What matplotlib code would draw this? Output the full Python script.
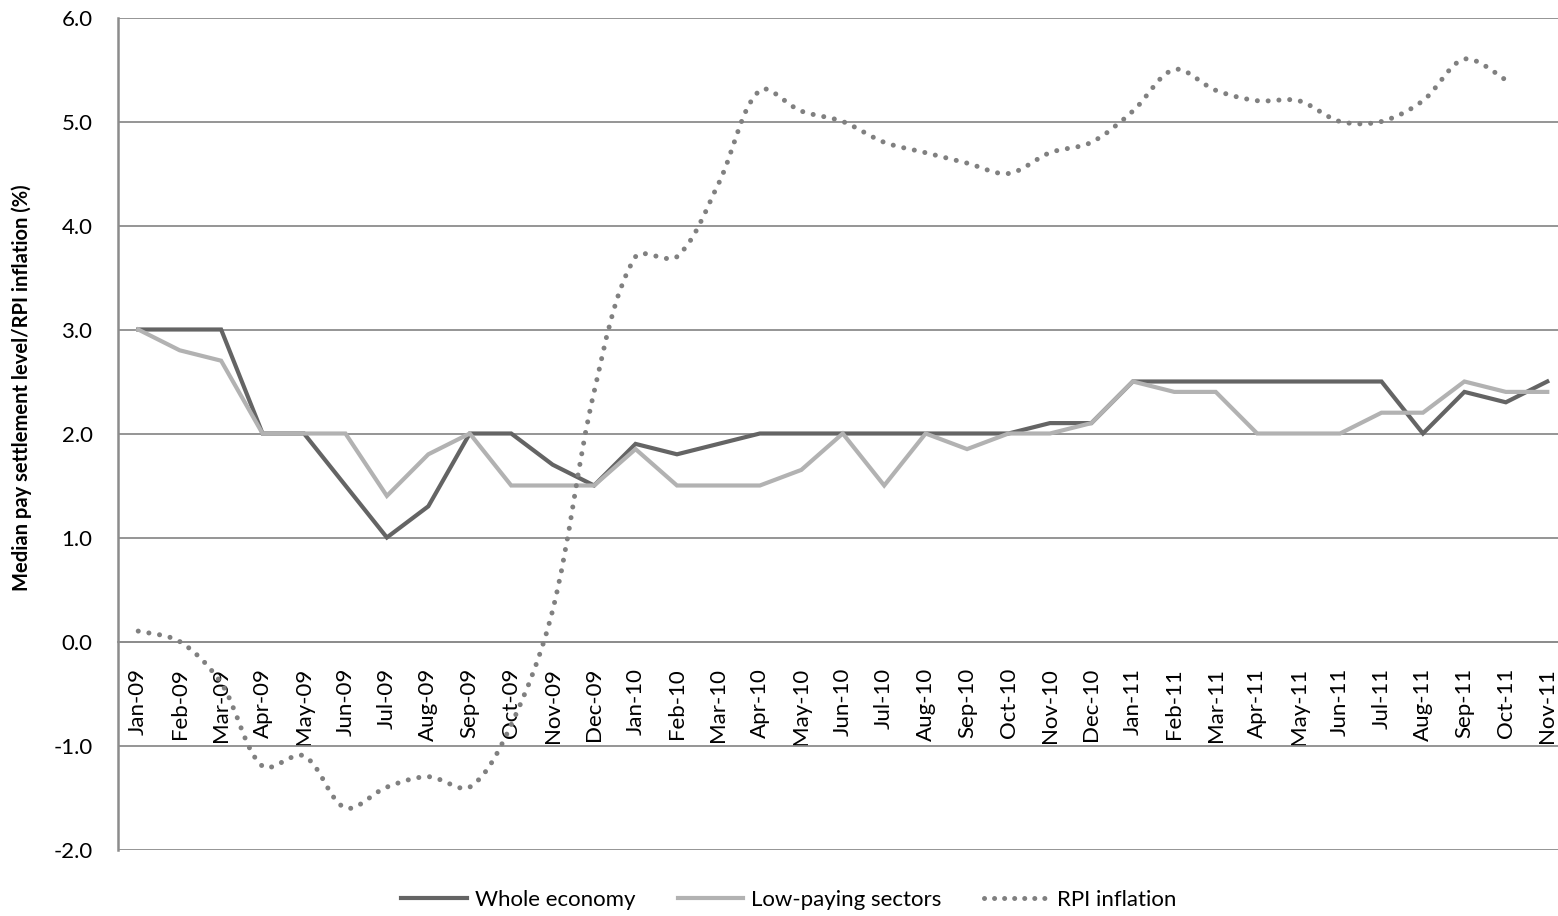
import numpy as np
import matplotlib.pyplot as plt
from matplotlib.path import Path
from matplotlib.patches import PathPatch
from matplotlib.lines import Line2D

plt.rcParams['font.family'] = ['Lato', 'DejaVu Sans']

months = ['Jan-09', 'Feb-09', 'Mar-09', 'Apr-09', 'May-09', 'Jun-09', 'Jul-09', 'Aug-09',
          'Sep-09', 'Oct-09', 'Nov-09', 'Dec-09', 'Jan-10', 'Feb-10', 'Mar-10', 'Apr-10',
          'May-10', 'Jun-10', 'Jul-10', 'Aug-10', 'Sep-10', 'Oct-10', 'Nov-10', 'Dec-10',
          'Jan-11', 'Feb-11', 'Mar-11', 'Apr-11', 'May-11', 'Jun-11', 'Jul-11', 'Aug-11',
          'Sep-11', 'Oct-11', 'Nov-11']

whole_economy = [3.0, 3.0, 3.0, 2.0, 2.0, 1.5, 1.0, 1.3, 2.0, 2.0, 1.7, 1.5,
                 1.9, 1.8, 1.9, 2.0, 2.0, 2.0, 2.0, 2.0, 2.0, 2.0, 2.1, 2.1,
                 2.5, 2.5, 2.5, 2.5, 2.5, 2.5, 2.5, 2.0, 2.4, 2.3, 2.5]

low_paying = [3.0, 2.8, 2.7, 2.0, 2.0, 2.0, 1.4, 1.8, 2.0, 1.5, 1.5, 1.5,
              1.85, 1.5, 1.5, 1.5, 1.65, 2.0, 1.5, 2.0, 1.85, 2.0, 2.0, 2.1,
              2.5, 2.4, 2.4, 2.0, 2.0, 2.0, 2.2, 2.2, 2.5, 2.4, 2.4]

rpi = [0.1, 0.0, -0.4, -1.2, -1.1, -1.6, -1.4, -1.3, -1.4, -0.8, 0.3, 2.4,
       3.7, 3.7, 4.4, 5.3, 5.1, 5.0, 4.8, 4.7, 4.6, 4.5, 4.7, 4.8,
       5.1, 5.5, 5.3, 5.2, 5.2, 5.0, 5.0, 5.2, 5.6, 5.4]

c_whole = '#646464'
c_low = '#b2b2b2'
c_rpi = '#808080'
c_grid = '#8c8c8c'
fs = 16


def smooth_path(x, y, yscale):
    # smoothed line: cubic Bezier through every point, tangents weighted by
    # chord length (measured with y stretched by yscale) to avoid overshoot
    pts = np.column_stack([x, y]).astype(float)
    n = len(pts)

    def dist(a, b):
        return np.hypot(b[0] - a[0], (b[1] - a[1]) * yscale)

    verts = [pts[0]]
    codes = [Path.MOVETO]
    for i in range(n - 1):
        p0 = pts[i - 1] if i > 0 else pts[i]
        p1 = pts[i]
        p2 = pts[i + 1]
        p3 = pts[i + 2] if i + 2 < n else pts[i + 1]
        d01, d12, d23 = dist(p0, p1), dist(p1, p2), dist(p2, p3)
        w1 = d12 / (d01 + d12) if d01 > 0 else 0.5
        w2 = d12 / (d12 + d23) if d23 > 0 else 0.5
        c1 = p1 + (p2 - p0) * w1 / 3
        c2 = p2 - (p3 - p1) * w2 / 3
        verts += [c1, c2, p2]
        codes += [Path.CURVE4] * 3
    return Path(verts, codes)


fig = plt.figure(figsize=(15.58, 9.16), dpi=100)
ax = fig.add_axes([117.5 / 1558, 1 - 849.5 / 916, (1568 - 117.5) / 1558, 832 / 916])

x = np.arange(len(months))
ax.plot(x, whole_economy, color=c_whole, lw=3.0, solid_joinstyle='miter', zorder=3)
ax.plot(x, low_paying, color=c_low, lw=3.0, solid_joinstyle='miter', zorder=4)

rpi_patch = PathPatch(smooth_path(x[:len(rpi)], rpi, 104 / 41.44), fill=False,
                      edgecolor=c_rpi, lw=3.6, linestyle=(0, (0.01, 2.15)),
                      capstyle='round', zorder=5)
ax.add_patch(rpi_patch)

ax.set_xlim(-0.5, len(months) - 0.5)
ax.set_ylim(-2, 6)
ax.set_yticks(np.arange(-2, 7, 1))
ax.set_yticklabels([f'{v:.1f}' for v in np.arange(-2, 7, 1)], fontsize=fs)
ax.yaxis.grid(True, color=c_grid, lw=1.3)
ax.set_axisbelow(True)

# category axis crosses at zero, labels hang below it
ax.spines['bottom'].set_position(('data', 0))
ax.spines['bottom'].set_color(c_grid)
ax.spines['bottom'].set_linewidth(1.3)
ax.spines['left'].set_color(c_grid)
ax.spines['left'].set_linewidth(1.8)
ax.spines['top'].set_visible(False)
ax.spines['right'].set_visible(False)
ax.set_xticks(x)
ax.set_xticklabels(months, fontsize=fs)
ax.tick_params(axis='x', length=0, pad=19, labelrotation=90)
ax.tick_params(axis='y', length=0, pad=18)

ax.set_ylabel('Median pay settlement level/RPI inflation (%)', fontsize=14.5,
              fontweight='bold')
ax.yaxis.set_label_coords(-0.059, (849.5 - 388) / 832)

handles = [Line2D([], [], color=c_whole, lw=3.0),
           Line2D([], [], color=c_low, lw=3.0),
           Line2D([], [], color=c_rpi, lw=3.6, linestyle=(0, (0.01, 2.0)),
                  dash_capstyle='round')]
fig.legend(handles, ['Whole economy', 'Low-paying sectors', 'RPI inflation'],
           loc='center', bbox_to_anchor=(0.5064, 1 - 900 / 916), ncol=3, frameon=False,
           fontsize=fs, handlelength=2.95, handletextpad=0.36, columnspacing=1.9)

fig.savefig('out.png', dpi=100)
